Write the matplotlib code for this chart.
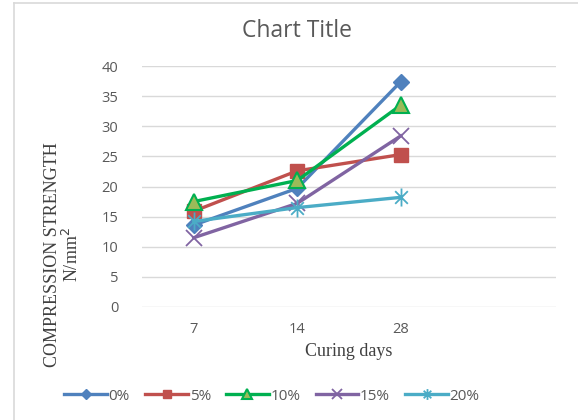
import matplotlib.pyplot as plt
from matplotlib.path import Path
from matplotlib.lines import Line2D

# data
days = ['7', '14', '28']
series_names = ['0%', '5%', '10%', '15%', '20%']
s0 = [13.6, 19.7, 37.4]
s5 = [15.9, 22.6, 25.3]
s10 = [17.5, 21.0, 33.5]
s15 = [11.5, 17.2, 28.4]
s20 = [14.2, 16.5, 18.2]

#asterisk marker like excel's star: x plus a vertical bar
star = Path([(0, -1), (0, 1), (-0.7, -0.7), (0.7, 0.7), (-0.7, 0.7), (0.7, -0.7)],
            [Path.MOVETO, Path.LINETO, Path.MOVETO, Path.LINETO, Path.MOVETO, Path.LINETO])

styles = [
    dict(color='#4F81BD', marker='D', ms=8, mfc='#4F81BD', mec='#4F81BD'),
    dict(color='#C0504D', marker='s', ms=10, mfc='#C0504D', mec='#C0504D'),
    dict(color='#00B050', marker='^', ms=11, mfc='#9BBB59', mec='#00B050', mew=1.5),
    dict(color='#8064A2', marker='x', ms=11, mew=1.3),
    dict(color='#4BACC6', marker=star, ms=13, mew=1.3),
]

fig = plt.figure(figsize=(5.78, 4.2), dpi=100)
ax = fig.add_axes([142/578, 1-307/420, 414/578, 241/420])

x = list(range(len(days)))
for name, vals, st in zip(series_names, [s0, s5, s10, s15, s20], styles):
    ax.plot(x, vals, lw=2.4, label=name, **st)

ax.set_xlim(-0.5, 3.5)
ax.set_ylim(0, 40)
ax.set_xticks(x)
ax.set_xticklabels(days)
ax.set_yticks(range(0, 41, 5))
ax.grid(axis='y', color='#D9D9D9', lw=1)
ax.set_axisbelow(True)
for sp in ax.spines.values():
    sp.set_visible(False)
ax.tick_params(length=0, labelsize=10.5, labelcolor='#595959', pad=0)
ax.tick_params(axis='y', pad=17)
ax.tick_params(axis='x', pad=11)
for lab in ax.get_xticklabels() + ax.get_yticklabels():
    lab.set_family('Open Sans')

fig.text(297/578, 1-31/420, 'Chart Title', ha='center', va='center',
         fontsize=16.5, color='#595959', family='Open Sans')
fig.text(349/578, 1-351/420, 'Curing days', ha='center', va='center',
         fontsize=13, color='#404040', family='Liberation Serif')
fig.text(63/578, 1-255/420, 'COMPRESSION STRENGTH\nN/mm$^2$', ha='center', va='center',
         rotation=90, fontsize=13, color='#404040', family='Liberation Serif',
         linespacing=1.05)

leg = fig.legend(loc='center', bbox_to_anchor=(272/578, 1-396/420), ncol=5, frameon=False,
                 fontsize=11, markerscale=0.6, handlelength=2.8, columnspacing=1.0,
                 handletextpad=0.1)
for t in leg.get_texts():
    t.set_color('#595959')
    t.set_family('Open Sans')

# chart border
fig.add_artist(Line2D([14/578, 14/578], [0, 1-3/420], color='#D9D9D9', lw=1.2))
fig.add_artist(Line2D([14/578, 1], [1-3/420, 1-3/420], color='#D9D9D9', lw=1.2))

fig.savefig('out.png', dpi=100)
